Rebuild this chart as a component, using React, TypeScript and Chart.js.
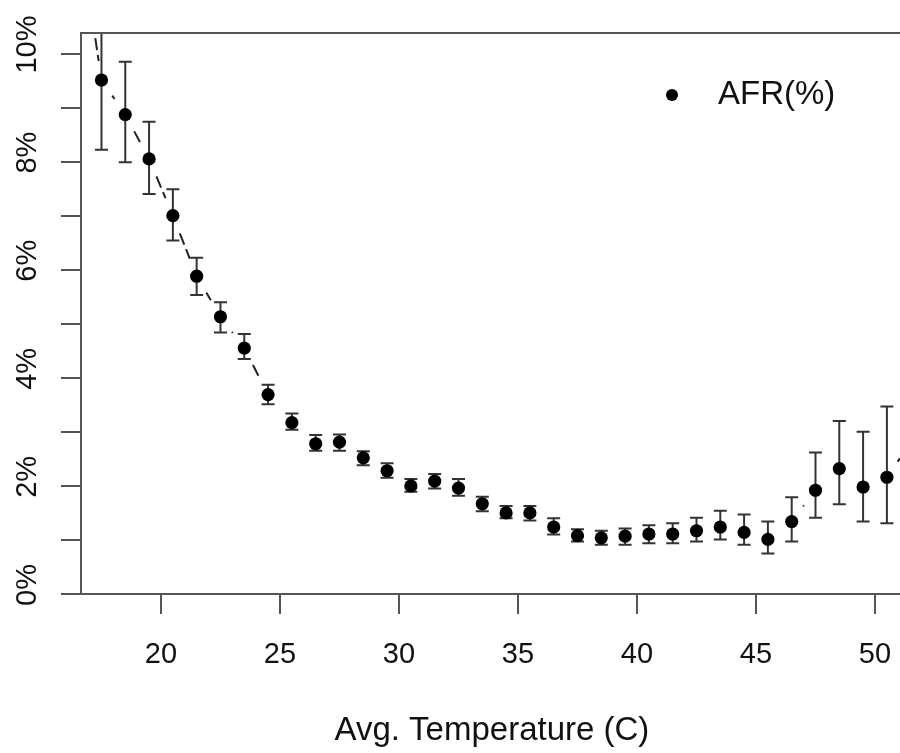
import React, { useEffect, useRef } from 'react';
import { Chart, registerables } from 'chart.js';

Chart.register(...registerables);

// ---- data ----
const TEMPS = [
  17.5, 18.5, 19.5, 20.5, 21.5, 22.5, 23.5, 24.5, 25.5, 26.5, 27.5, 28.5,
  29.5, 30.5, 31.5, 32.5, 33.5, 34.5, 35.5, 36.5, 37.5, 38.5, 39.5, 40.5,
  41.5, 42.5, 43.5, 44.5, 45.5, 46.5, 47.5, 48.5, 49.5, 50.5,
];
const AFR = [
  9.51, 8.87, 8.05, 7.0, 5.88, 5.13, 4.55, 3.69, 3.17, 2.78, 2.81, 2.52,
  2.28, 2.0, 2.09, 1.96, 1.67, 1.5, 1.5, 1.24, 1.08, 1.04, 1.07, 1.11,
  1.11, 1.17, 1.24, 1.14, 1.01, 1.34, 1.92, 2.32, 1.98, 2.16,
];
const AFR_LOW = [
  8.22, 7.99, 7.4, 6.54, 5.53, 4.84, 4.35, 3.51, 3.04, 2.65, 2.65, 2.38,
  2.15, 1.89, 1.95, 1.82, 1.53, 1.4, 1.36, 1.1, 0.97, 0.91, 0.91, 0.94,
  0.94, 0.97, 1.01, 0.91, 0.75, 0.97, 1.41, 1.66, 1.34, 1.31,
];
const AFR_HIGH = [
  10.8, 9.85, 8.74, 7.49, 6.22, 5.4, 4.81, 3.87, 3.34, 2.94, 2.95, 2.64,
  2.42, 2.13, 2.22, 2.13, 1.8, 1.63, 1.63, 1.4, 1.2, 1.17, 1.21, 1.27,
  1.31, 1.41, 1.54, 1.47, 1.34, 1.79, 2.62, 3.2, 3.0, 3.47,
];
// trend line continues beyond the plotted range on both sides
const TREND_EDGE_TEMPS = [16.5, 51.5];
const TREND_EDGE_AFR = [12.5, 2.8];

const X_TICKS = [20, 25, 30, 35, 40, 45, 50];
const Y_TICKS = [0, 1, 2, 3, 4, 5, 6, 7, 8, 9, 10];
const Y_LABELLED = [0, 2, 4, 6, 8, 10];
const SERIES_LABEL = 'AFR(%)';
const X_TITLE = 'Avg. Temperature (C)';

const FONT = "'Liberation Sans', Arial, Helvetica, sans-serif";
const AXIS_GRAY = '#555';
const TEXT = '#111';

// dashed connector with a gap around each point (like R's type = "b")
function trendDash(ctx: any): number[] {
  const p0 = ctx.p0;
  const p1 = ctx.p1;
  const L = Math.hypot(p1.x - p0.x, p1.y - p0.y);
  const g = 19;
  const avail = L - 2 * g;
  if (!(avail > 0)) return [0, L + 1000];
  const pat = [0, g];
  let r = avail;
  let on = true;
  while (r > 0) {
    const len = Math.min(on ? 12 : 5, r);
    pat.push(len);
    r -= len;
    on = !on;
  }
  if (!on) pat.push(g + 1000);
  else pat.push(0, g + 1000);
  return pat;
}

export default function App() {
  const ref = useRef<HTMLCanvasElement>(null);

  useEffect(() => {
    document.body.style.margin = '0';
    const canvas = ref.current;
    if (!canvas) return;

    const dot = document.createElement('canvas');
    dot.width = 14;
    dot.height = 14;
    const dctx = dot.getContext('2d');
    if (dctx) {
      dctx.fillStyle = '#000';
      dctx.beginPath();
      dctx.arc(7, 7, 6, 0, Math.PI * 2);
      dctx.fill();
    }

    const points = TEMPS.map((t, i) => ({ x: t, y: AFR[i] }));
    const trend = [
      { x: TREND_EDGE_TEMPS[0], y: TREND_EDGE_AFR[0] },
      ...points,
      { x: TREND_EDGE_TEMPS[1], y: TREND_EDGE_AFR[1] },
    ];

    const errorBars = {
      id: 'errorBars',
      beforeDatasetsDraw(chart: any) {
        const { ctx, chartArea: a, scales } = chart;
        const xs = scales.x;
        const ys = scales.y;
        ctx.save();
        ctx.beginPath();
        ctx.rect(a.left, a.top, a.right - a.left, a.bottom - a.top);
        ctx.clip();
        ctx.strokeStyle = '#333';
        ctx.lineWidth = 2;
        TEMPS.forEach((t, i) => {
          const px = xs.getPixelForValue(t);
          const lo = ys.getPixelForValue(AFR_LOW[i]);
          const hi = ys.getPixelForValue(AFR_HIGH[i]);
          ctx.beginPath();
          ctx.moveTo(px, lo);
          ctx.lineTo(px, hi);
          ctx.moveTo(px - 6.5, lo);
          ctx.lineTo(px + 6.5, lo);
          ctx.moveTo(px - 6.5, hi);
          ctx.lineTo(px + 6.5, hi);
          ctx.stroke();
        });
        ctx.restore();
      },
    };

    const frame = {
      id: 'frame',
      afterDraw(chart: any) {
        const { ctx, chartArea: a } = chart;
        ctx.save();
        ctx.strokeStyle = AXIS_GRAY;
        ctx.lineWidth = 2;
        ctx.strokeRect(a.left, a.top, a.right - a.left, a.bottom - a.top);
        ctx.restore();
      },
    };

    const legendPlace = {
      id: 'legendPlace',
      afterLayout(chart: any) {
        const lg = chart.legend;
        if (!lg) return;
        const w = lg.width;
        const h = lg.height;
        lg.left = 632.5;
        lg.top = 68.5;
        lg.right = lg.left + Math.max(w, 300);
        lg.bottom = lg.top + h;
      },
    };

    const chart = new Chart(canvas, {
      type: 'scatter',
      data: {
        datasets: [
          {
            label: SERIES_LABEL,
            data: points,
            backgroundColor: '#000',
            borderColor: '#000',
            borderWidth: 0,
            pointRadius: 6.6,
            pointHoverRadius: 6.6,
            pointStyle: 'circle',
          },
          {
            label: 'trend',
            data: trend,
            showLine: true,
            borderColor: '#222',
            borderWidth: 2,
            pointRadius: 0,
            pointHoverRadius: 0,
            tension: 0,
            fill: false,
            segment: {
              borderDash: (ctx: any) => trendDash(ctx),
              borderDashOffset: (ctx: any) => ctx.p0DataIndex * 1e-4,
            },
          } as any,
        ],
      },
      options: {
        responsive: false,
        animation: false,
        devicePixelRatio: 1,
        layout: { padding: { top: 33, right: 8, left: 0, bottom: 0 } },
        plugins: {
          tooltip: { enabled: false },
          legend: {
            position: 'chartArea',
            align: 'start',
            labels: {
              usePointStyle: true,
              pointStyle: dot as any,
              pointStyleWidth: 59,
              padding: 10,
              color: TEXT,
              font: { family: FONT, size: 33 },
              filter: (item: any) => item.datasetIndex === 0,
            },
          } as any,
        },
        scales: {
          x: {
            type: 'linear',
            min: 16.64,
            max: 51.17,
            afterBuildTicks: (s: any) => {
              s.ticks = X_TICKS.map((v) => ({ value: v }));
            },
            afterFit: (s: any) => {
              s.height = 159;
            },
            grid: {
              drawOnChartArea: false,
              drawTicks: true,
              tickLength: 20,
              color: AXIS_GRAY,
              lineWidth: 2,
            },
            border: { display: true, color: AXIS_GRAY, width: 2 },
            ticks: {
              autoSkip: false,
              minRotation: 0,
              maxRotation: 0,
              padding: 23.6,
              color: TEXT,
              font: { family: FONT, size: 29 },
              callback: (v: any) => String(v),
            },
            title: {
              display: true,
              text: X_TITLE,
              color: TEXT,
              font: { family: FONT, size: 33 },
              padding: { top: 0, bottom: 2 },
            },
          },
          y: {
            type: 'linear',
            min: 0,
            max: 10.38,
            afterBuildTicks: (s: any) => {
              s.ticks = Y_TICKS.map((v) => ({ value: v }));
            },
            afterFit: (s: any) => {
              s.width = 81;
            },
            grid: {
              drawOnChartArea: false,
              drawTicks: true,
              tickLength: 20,
              color: AXIS_GRAY,
              lineWidth: 2,
            },
            border: { display: true, color: AXIS_GRAY, width: 2 },
            ticks: {
              autoSkip: false,
              minRotation: 90,
              maxRotation: 90,
              crossAlign: 'center',
              padding: 3.5,
              labelOffset: -9,
              color: TEXT,
              font: { family: FONT, size: 29 },
              callback: (v: any) => (Y_LABELLED.includes(Number(v)) ? `${v}%` : ''),
            },
          },
        },
      },
      plugins: [errorBars, frame, legendPlace],
    });

    return () => chart.destroy();
  }, []);

  return (
    <div style={{ width: 900, height: 753, overflow: 'hidden', background: '#fff' }}>
      <canvas ref={ref} width={915} height={753} style={{ display: 'block' }} />
    </div>
  );
}
